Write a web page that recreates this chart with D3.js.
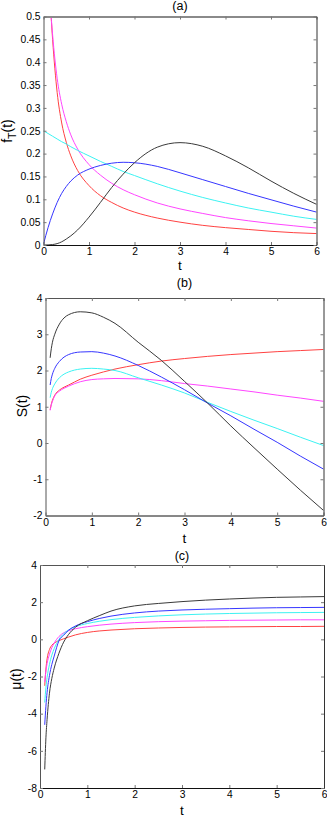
<!DOCTYPE html>
<html><head><meta charset="utf-8">
<script src="https://cdn.jsdelivr.net/npm/d3@7"></script>
<style>
body{margin:0;background:#fff}
svg{display:block}
text{font-family:"Liberation Sans",Arial,Helvetica,sans-serif;fill:#000}
</style>
</head><body>
<svg id="chart" width="327" height="817"></svg>
<script>
// ---------- data ----------
const xTicks = [0, 1, 2, 3, 4, 5, 6];
const xTickLabels = ["0", "1", "2", "3", "4", "5", "6"];
const seriesNames = ["red", "magenta", "cyan", "blue", "black"];

// panel (a): f_T(t)
const tA = [0, 0.1, 0.2, 0.3, 0.4, 0.5, 0.6, 0.75, 1, 1.25, 1.5, 1.75, 2, 2.5, 3, 3.5, 4, 4.5, 5, 5.5, 6];
const fRed     = [null, 0.62, 0.45, 0.334, 0.267, 0.225, 0.195, 0.163, 0.13, 0.108, 0.093, 0.081, 0.072, 0.059, 0.05, 0.043, 0.038, 0.034, 0.03, 0.027, 0.025];
const fMagenta = [null, 0.6, 0.46, 0.365, 0.308, 0.27, 0.241, 0.21, 0.176, 0.153, 0.135, 0.121, 0.11, 0.092, 0.079, 0.069, 0.06, 0.053, 0.047, 0.042, 0.037];
const fCyan    = [0.25, 0.244, 0.238, 0.232, 0.226, 0.221, 0.215, 0.207, 0.195, 0.183, 0.172, 0.161, 0.152, 0.134, 0.118, 0.104, 0.092, 0.081, 0.072, 0.063, 0.056];
const fBlue    = [0.002, 0.038, 0.068, 0.093, 0.113, 0.128, 0.14, 0.153, 0.166, 0.174, 0.179, 0.181, 0.18, 0.172, 0.158, 0.143, 0.128, 0.113, 0.099, 0.085, 0.072];
const fBlack   = [0, 0.0002, 0.001, 0.003, 0.007, 0.013, 0.02, 0.033, 0.061, 0.093, 0.126, 0.155, 0.18, 0.214, 0.224, 0.216, 0.195, 0.169, 0.14, 0.113, 0.089];
const yTicksA = [0, 0.05, 0.1, 0.15, 0.2, 0.25, 0.3, 0.35, 0.4, 0.45, 0.5];
const yTickLabelsA = ["0", "0.05", "0.1", "0.15", "0.2", "0.25", "0.3", "0.35", "0.4", "0.45", "0.5"];

// panel (b): S(t)
const tB = [0.1, 0.125, 0.15, 0.2, 0.3, 0.4, 0.5, 0.75, 1, 1.25, 1.5, 2, 2.5, 3, 3.5, 4, 4.5, 5, 5.5, 6];
const sRed     = [0.92, 1.07, 1.18, 1.32, 1.46, 1.54, 1.6, 1.76, 1.87, 1.96, 2.04, 2.16, 2.26, 2.33, 2.39, 2.44, 2.48, 2.52, 2.55, 2.58];
const sMagenta = [0.9, 1.05, 1.15, 1.3, 1.43, 1.51, 1.57, 1.69, 1.75, 1.77, 1.78, 1.77, 1.72, 1.64, 1.57, 1.49, 1.41, 1.32, 1.24, 1.15];
const sCyan    = [1.25, 1.4, 1.5, 1.63, 1.8, 1.9, 1.96, 2.04, 2.06, 2.04, 2.0, 1.8, 1.6, 1.38, 1.12, 0.87, 0.63, 0.4, 0.16, -0.07];
const sBlue    = [1.6, 1.78, 1.9, 2.06, 2.25, 2.37, 2.44, 2.51, 2.52, 2.48, 2.4, 2.14, 1.82, 1.47, 1.1, 0.75, 0.38, 0.02, -0.36, -0.72];
const sBlack   = [2.35, 2.6, 2.78, 3.0, 3.28, 3.45, 3.54, 3.62, 3.59, 3.47, 3.3, 2.78, 2.28, 1.7, 1.1, 0.47, -0.13, -0.72, -1.3, -1.86];
const yTicksB = [-2, -1, 0, 1, 2, 3, 4];
const yTickLabelsB = ["-2", "-1", "0", "1", "2", "3", "4"];

// panel (c): mu(t)
const tC = [0.1, 0.125, 0.15, 0.2, 0.25, 0.3, 0.4, 0.5, 0.6, 0.75, 1, 1.25, 1.5, 2, 2.5, 3, 3.5, 4, 4.5, 5, 5.5, 6];
const muRed     = [-2.5, -1.6, -1.05, -0.55, -0.32, -0.2, -0.07, 0.03, 0.12, 0.24, 0.37, 0.45, 0.5, 0.57, 0.61, 0.64, 0.66, 0.67, 0.68, 0.69, 0.69, 0.7];
const muMagenta = [-2.3, -1.7, -1.3, -0.8, -0.45, -0.2, 0.15, 0.35, 0.46, 0.57, 0.68, 0.76, 0.82, 0.9, 0.95, 0.98, 1.0, 1.02, 1.03, 1.04, 1.05, 1.05];
const muCyan    = [-3.4, -2.6, -2.05, -1.35, -0.85, -0.5, 0.0, 0.3, 0.5, 0.68, 0.85, 0.97, 1.06, 1.18, 1.26, 1.32, 1.36, 1.39, 1.41, 1.43, 1.44, 1.45];
const muBlue    = [-4.6, -3.6, -2.85, -1.95, -1.35, -0.9, -0.08, 0.22, 0.48, 0.72, 0.95, 1.12, 1.25, 1.42, 1.52, 1.58, 1.62, 1.65, 1.68, 1.7, 1.71, 1.72];
const muBlack   = [-7.0, -5.3, -4.3, -2.9, -2.1, -1.55, -0.75, -0.15, 0.25, 0.65, 1.0, 1.27, 1.52, 1.8, 1.93, 2.03, 2.11, 2.17, 2.22, 2.26, 2.28, 2.3];
const yTicksC = [-8, -6, -4, -2, 0, 2, 4];
const yTickLabelsC = ["-8", "-6", "-4", "-2", "0", "2", "4"];

// ---------- styles / layout ----------
const colors = {red: "#ff4242", magenta: "#ff45ff", cyan: "#3cf2f2", blue: "#3636ff", black: "#3a3a3a"};

const panels = [
  {id: "a", title: "(a)", t: tA, series: [fRed, fMagenta, fCyan, fBlue, fBlack],
   yDomain: [0, 0.5], yTicks: yTicksA, yTickLabels: yTickLabelsA,
   left: 43.5, right: 316.5, top: 16.5, bottom: 245,
   titleY: 10, xLabelY: 270, ylabel: "f", ylabelSub: "T", ylabelRest: "(t)", ylabelX: 11.5, ylabelY: 131},
  {id: "b", title: "(b)", t: tB, series: [sRed, sMagenta, sCyan, sBlue, sBlack],
   yDomain: [-2, 4], yTicks: yTicksB, yTickLabels: yTickLabelsB,
   left: 45.5, right: 323.5, top: 298, bottom: 515.5,
   titleY: 287, xLabelY: 543, ylabel: "S(t)", ylabelX: 26.5, ylabelY: 406},
  {id: "c", title: "(c)", t: tC, series: [muRed, muMagenta, muCyan, muBlue, muBlack],
   yDomain: [-8, 4], yTicks: yTicksC, yTickLabels: yTickLabelsC,
   left: 40, right: 324, top: 565, bottom: 788,
   titleY: 560, xLabelY: 815, ylabel: "\u03bc(t)", ylabelX: 21, ylabelY: 679}
];

const svg = d3.select("#chart");

panels.forEach(p => {
  const g = svg.append("g");
  const x = d3.scaleLinear().domain([0, 6]).range([p.left, p.right]);
  const y = d3.scaleLinear().domain(p.yDomain).range([p.bottom, p.top]);

  g.append("clipPath").attr("id", "clip-" + p.id)
    .append("rect").attr("x", p.left).attr("y", p.top)
    .attr("width", p.right - p.left).attr("height", p.bottom - p.top);

  const line = d3.line()
    .defined(d => d[1] != null)
    .x(d => x(d[0])).y(d => y(d[1]))
    .curve(d3.curveMonotoneX);

  const lines = g.append("g").attr("clip-path", "url(#clip-" + p.id + ")");
  p.series.forEach((vals, i) => {
    const pts = p.t.map((tv, k) => [tv, vals[k]]);
    lines.append("path").attr("d", line(pts))
      .attr("fill", "none").attr("stroke", colors[seriesNames[i]])
      .attr("stroke-width", 1);
  });

  const fmtX = d => xTickLabels[xTicks.indexOf(d)];
  const fmtY = d => p.yTickLabels[p.yTicks.indexOf(d)];

  const axB = g.append("g").attr("transform", `translate(0,${p.bottom})`)
    .call(d3.axisBottom(x).tickValues(xTicks).tickFormat(fmtX).tickSizeInner(-3).tickSizeOuter(0).tickPadding(3));
  const axT = g.append("g").attr("transform", `translate(0,${p.top})`)
    .call(d3.axisTop(x).tickValues(xTicks).tickFormat("").tickSizeInner(-3).tickSizeOuter(0));
  const axL = g.append("g").attr("transform", `translate(${p.left},0)`)
    .call(d3.axisLeft(y).tickValues(p.yTicks).tickFormat(fmtY).tickSizeInner(-3).tickSizeOuter(0).tickPadding(3));
  const axR = g.append("g").attr("transform", `translate(${p.right},0)`)
    .call(d3.axisRight(y).tickValues(p.yTicks).tickFormat("").tickSizeInner(-3).tickSizeOuter(0));

  [axB, axT, axL, axR].forEach(a => {
    a.selectAll("text").attr("font-size", 10.3).attr("font-family", "'Liberation Sans', Arial, sans-serif").attr("fill", "#000");
    a.selectAll(".tick line").attr("stroke", "#777");
  });
  axB.select(".domain").attr("stroke", "#111");
  axR.select(".domain").attr("stroke", "#333");
  axL.select(".domain").attr("stroke", "#555");
  axT.select(".domain").attr("stroke", p.id === "a" ? "#8a8a8a" : "#555").attr("stroke-width", p.id === "a" ? 2 : 1);

  const cx = (p.left + p.right) / 2;
  g.append("text").attr("x", cx).attr("y", p.titleY).attr("text-anchor", "middle")
    .attr("font-size", 12.5).text(p.title);
  g.append("text").attr("x", cx).attr("y", p.xLabelY).attr("text-anchor", "middle")
    .attr("font-size", 13.5).text("t");

  const yl = g.append("text").attr("transform", `translate(${p.ylabelX},${p.ylabelY}) rotate(-90)`)
    .attr("text-anchor", "middle").attr("font-size", 14);
  if (p.ylabelSub) {
    yl.append("tspan").text(p.ylabel);
    yl.append("tspan").attr("font-size", 10.5).attr("dy", 4).text(p.ylabelSub);
    yl.append("tspan").attr("dy", -4).text(p.ylabelRest);
  } else {
    yl.text(p.ylabel);
  }
});
</script>
</body></html>
